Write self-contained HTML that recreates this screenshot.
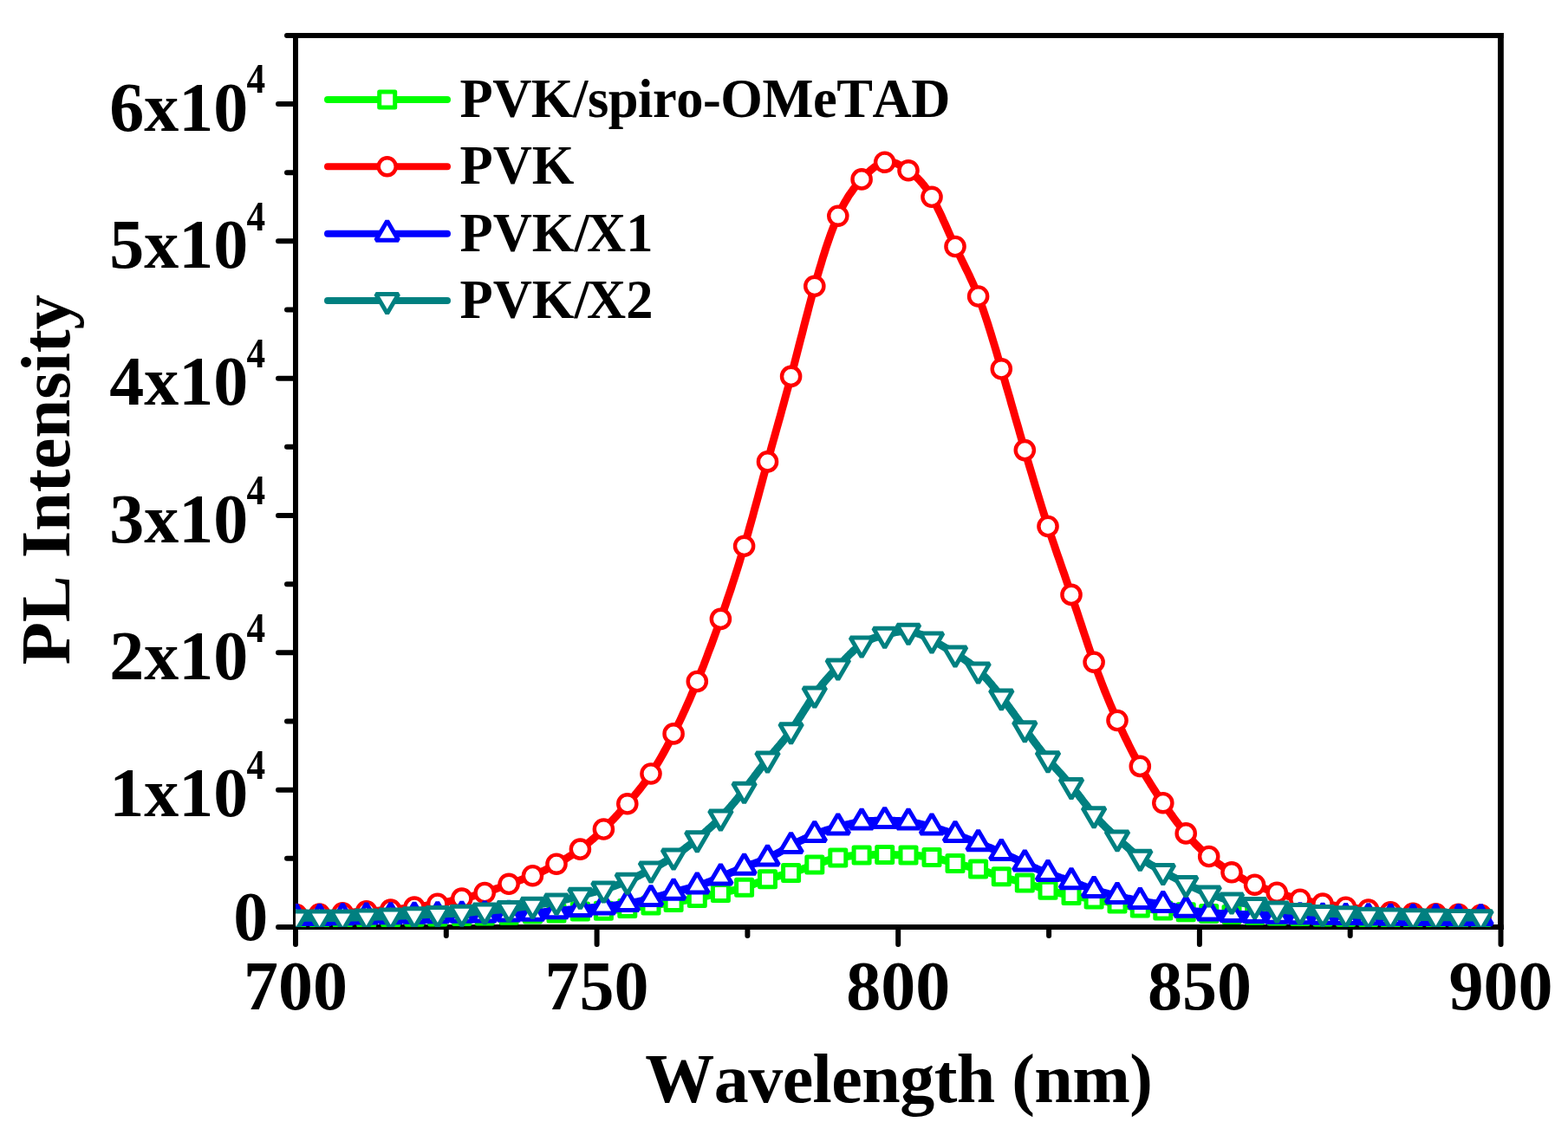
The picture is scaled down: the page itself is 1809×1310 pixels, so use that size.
<!DOCTYPE html>
<html><head><meta charset="utf-8"><title>PL Intensity</title><style>
html,body{margin:0;padding:0;background:#fff;overflow:hidden;}
svg{display:block}
text{font-family:"Liberation Serif","Times New Roman",serif;font-weight:bold;fill:#000;font-kerning:none;}
</style></head><body>
<svg width="1809" height="1310" viewBox="0 0 1809 1310">
<rect width="1809" height="1310" fill="#fff"/>
<defs><clipPath id="pc"><rect x="341" y="41" width="1390.5" height="1029"/></clipPath></defs>
<g stroke="#000" stroke-width="6" stroke-linecap="round" fill="none">
<path d="M341.0,41.0H1731.5M1731.5,1070.0H341.0V41.0" stroke-linejoin="miter" stroke-linecap="square"/>
<path d="M1731.4,38V1073" stroke-width="6.8" stroke-linecap="butt"/>
<path d="M341.0,1070.0h-20"/>
<path d="M341.0,990.8h-10"/>
<path d="M341.0,911.7h-20"/>
<path d="M341.0,832.5h-10"/>
<path d="M341.0,753.3h-20"/>
<path d="M341.0,674.2h-10"/>
<path d="M341.0,595.0h-20"/>
<path d="M341.0,515.8h-10"/>
<path d="M341.0,436.7h-20"/>
<path d="M341.0,357.5h-10"/>
<path d="M341.0,278.3h-20"/>
<path d="M341.0,199.2h-10"/>
<path d="M341.0,120.0h-20"/>
<path d="M341.0,40.9h-10"/>
<path d="M341.0,1070.0v20"/>
<path d="M514.8,1070.0v10"/>
<path d="M688.6,1070.0v20"/>
<path d="M862.4,1070.0v10"/>
<path d="M1036.2,1070.0v20"/>
<path d="M1210.1,1070.0v10"/>
<path d="M1383.9,1070.0v20"/>
<path d="M1557.7,1070.0v10"/>
<path d="M1731.5,1070.0v20"/>
</g>
<g clip-path="url(#pc)">
<polyline points="336.9,1059.5 338.9,1059.5 340.8,1059.5 342.8,1059.5 344.7,1059.5 346.7,1059.5 348.7,1059.5 350.6,1059.5 352.6,1059.5 354.6,1059.5 356.5,1059.5 358.5,1059.5 360.4,1059.5 362.4,1059.5 364.4,1059.5 366.3,1059.5 368.3,1059.5 370.3,1059.5 372.2,1059.5 374.2,1059.5 376.1,1059.5 378.1,1059.4 380.1,1059.4 382.0,1059.4 384.0,1059.4 386.0,1059.4 387.9,1059.4 389.9,1059.4 391.8,1059.3 393.8,1059.3 395.8,1059.3 397.7,1059.3 399.7,1059.3 401.7,1059.2 403.6,1059.2 405.6,1059.2 407.5,1059.2 409.5,1059.1 411.5,1059.1 413.4,1059.1 415.4,1059.1 417.4,1059.1 419.3,1059.0 421.3,1059.0 423.2,1059.0 425.2,1059.0 427.2,1059.0 429.1,1058.9 431.1,1058.9 433.0,1058.9 435.0,1058.9 437.0,1058.9 438.9,1058.8 440.9,1058.8 442.9,1058.8 444.8,1058.8 446.8,1058.7 448.7,1058.7 450.7,1058.7 452.7,1058.7 454.6,1058.6 456.6,1058.6 458.6,1058.6 460.5,1058.6 462.5,1058.5 464.4,1058.5 466.4,1058.5 468.4,1058.4 470.3,1058.4 472.3,1058.4 474.3,1058.3 476.2,1058.3 478.2,1058.3 480.1,1058.3 482.1,1058.3 484.1,1058.2 486.0,1058.2 488.0,1058.2 490.0,1058.2 491.9,1058.1 493.9,1058.1 495.8,1058.1 497.8,1058.1 499.8,1058.1 501.7,1058.0 503.7,1058.0 505.7,1058.0 507.6,1058.0 509.6,1057.9 511.5,1057.9 513.5,1057.9 515.5,1057.8 517.4,1057.8 519.4,1057.8 521.3,1057.7 523.3,1057.7 525.3,1057.6 527.2,1057.6 529.2,1057.6 531.2,1057.5 533.1,1057.5 535.1,1057.5 537.0,1057.4 539.0,1057.4 541.0,1057.3 542.9,1057.3 544.9,1057.3 546.9,1057.2 548.8,1057.2 550.8,1057.2 552.7,1057.1 554.7,1057.1 556.7,1057.1 558.6,1057.0 560.6,1057.0 562.6,1056.9 564.5,1056.9 566.5,1056.8 568.4,1056.8 570.4,1056.7 572.4,1056.7 574.3,1056.6 576.3,1056.6 578.3,1056.5 580.2,1056.5 582.2,1056.4 584.1,1056.3 586.1,1056.2 588.1,1056.2 590.0,1056.1 592.0,1056.0 594.0,1055.9 595.9,1055.8 597.9,1055.7 599.8,1055.6 601.8,1055.5 603.8,1055.4 605.7,1055.3 607.7,1055.3 609.7,1055.2 611.6,1055.1 613.6,1055.0 615.5,1055.0 617.5,1054.9 619.5,1054.9 621.4,1054.8 623.4,1054.8 625.3,1054.7 627.3,1054.7 629.3,1054.6 631.2,1054.6 633.2,1054.5 635.2,1054.4 637.1,1054.3 639.1,1054.3 641.0,1054.2 643.0,1054.0 645.0,1053.9 646.9,1053.8 648.9,1053.6 650.9,1053.5 652.8,1053.3 654.8,1053.1 656.7,1053.0 658.7,1052.8 660.7,1052.7 662.6,1052.5 664.6,1052.4 666.6,1052.3 668.5,1052.1 670.5,1052.0 672.4,1052.0 674.4,1051.9 676.4,1051.8 678.3,1051.8 680.3,1051.7 682.3,1051.7 684.2,1051.6 686.2,1051.6 688.1,1051.5 690.1,1051.5 692.1,1051.4 694.0,1051.3 696.0,1051.2 698.0,1051.1 699.9,1051.0 701.9,1050.8 703.8,1050.6 705.8,1050.5 707.8,1050.3 709.7,1050.1 711.7,1049.9 713.6,1049.6 715.6,1049.4 717.6,1049.2 719.5,1048.9 721.5,1048.7 723.5,1048.4 725.4,1048.2 727.4,1047.9 729.3,1047.7 731.3,1047.5 733.3,1047.2 735.2,1047.0 737.2,1046.7 739.2,1046.5 741.1,1046.2 743.1,1046.0 745.0,1045.7 747.0,1045.5 749.0,1045.3 750.9,1045.0 752.9,1044.8 754.9,1044.5 756.8,1044.3 758.8,1044.0 760.7,1043.8 762.7,1043.5 764.7,1043.3 766.6,1043.0 768.6,1042.7 770.6,1042.5 772.5,1042.2 774.5,1041.9 776.4,1041.6 778.4,1041.3 780.4,1041.0 782.3,1040.7 784.3,1040.3 786.3,1040.0 788.2,1039.6 790.2,1039.3 792.1,1038.9 794.1,1038.5 796.1,1038.2 798.0,1037.8 800.0,1037.4 801.9,1037.0 803.9,1036.6 805.9,1036.2 807.8,1035.7 809.8,1035.3 811.8,1034.9 813.7,1034.5 815.7,1034.0 817.6,1033.6 819.6,1033.2 821.6,1032.7 823.5,1032.3 825.5,1031.9 827.5,1031.4 829.4,1031.0 831.4,1030.6 833.3,1030.2 835.3,1029.8 837.3,1029.4 839.2,1029.0 841.2,1028.6 843.2,1028.2 845.1,1027.7 847.1,1027.3 849.0,1026.8 851.0,1026.3 853.0,1025.8 854.9,1025.3 856.9,1024.7 858.9,1024.1 860.8,1023.5 862.8,1022.8 864.7,1022.2 866.7,1021.5 868.7,1020.7 870.6,1020.0 872.6,1019.3 874.6,1018.6 876.5,1017.8 878.5,1017.1 880.4,1016.4 882.4,1015.7 884.4,1015.1 886.3,1014.4 888.3,1013.8 890.2,1013.3 892.2,1012.7 894.2,1012.2 896.1,1011.7 898.1,1011.2 900.1,1010.7 902.0,1010.2 904.0,1009.7 905.9,1009.2 907.9,1008.7 909.9,1008.2 911.8,1007.6 913.8,1007.0 915.8,1006.5 917.7,1005.8 919.7,1005.2 921.6,1004.6 923.6,1003.9 925.6,1003.2 927.5,1002.5 929.5,1001.8 931.5,1001.1 933.4,1000.4 935.4,999.7 937.3,999.0 939.3,998.3 941.3,997.6 943.2,996.9 945.2,996.2 947.2,995.5 949.1,994.9 951.1,994.2 953.0,993.6 955.0,993.0 957.0,992.4 958.9,991.9 960.9,991.4 962.9,990.9 964.8,990.4 966.8,990.0 968.7,989.6 970.7,989.3 972.7,989.0 974.6,988.7 976.6,988.4 978.5,988.2 980.5,988.0 982.5,987.8 984.4,987.7 986.4,987.5 988.4,987.4 990.3,987.3 992.3,987.2 994.2,987.1 996.2,987.0 998.2,986.9 1000.1,986.9 1002.1,986.8 1004.1,986.7 1006.0,986.7 1008.0,986.6 1009.9,986.6 1011.9,986.6 1013.9,986.5 1015.8,986.5 1017.8,986.5 1019.8,986.5 1021.7,986.5 1023.7,986.5 1025.6,986.5 1027.6,986.6 1029.6,986.6 1031.5,986.6 1033.5,986.7 1035.5,986.7 1037.4,986.8 1039.4,986.8 1041.3,986.9 1043.3,986.9 1045.3,987.0 1047.2,987.1 1049.2,987.1 1051.2,987.2 1053.1,987.3 1055.1,987.4 1057.0,987.5 1059.0,987.6 1061.0,987.7 1062.9,987.9 1064.9,988.0 1066.9,988.2 1068.8,988.5 1070.8,988.7 1072.7,989.0 1074.7,989.3 1076.7,989.7 1078.6,990.1 1080.6,990.6 1082.5,991.1 1084.5,991.6 1086.5,992.1 1088.4,992.6 1090.4,993.2 1092.4,993.7 1094.3,994.3 1096.3,994.8 1098.2,995.4 1100.2,995.9 1102.2,996.4 1104.1,997.0 1106.1,997.4 1108.1,997.9 1110.0,998.4 1112.0,998.9 1113.9,999.3 1115.9,999.8 1117.9,1000.3 1119.8,1000.8 1121.8,1001.3 1123.8,1001.8 1125.7,1002.3 1127.7,1002.8 1129.6,1003.4 1131.6,1004.0 1133.6,1004.6 1135.5,1005.3 1137.5,1005.9 1139.5,1006.6 1141.4,1007.2 1143.4,1007.9 1145.3,1008.6 1147.3,1009.2 1149.3,1009.9 1151.2,1010.5 1153.2,1011.2 1155.2,1011.8 1157.1,1012.3 1159.1,1012.9 1161.0,1013.4 1163.0,1014.0 1165.0,1014.5 1166.9,1015.0 1168.9,1015.5 1170.8,1016.0 1172.8,1016.5 1174.8,1017.0 1176.7,1017.5 1178.7,1018.0 1180.7,1018.5 1182.6,1019.1 1184.6,1019.7 1186.5,1020.2 1188.5,1020.8 1190.5,1021.4 1192.4,1022.1 1194.4,1022.7 1196.4,1023.3 1198.3,1023.9 1200.3,1024.5 1202.2,1025.2 1204.2,1025.8 1206.2,1026.4 1208.1,1026.9 1210.1,1027.5 1212.1,1028.1 1214.0,1028.6 1216.0,1029.1 1217.9,1029.6 1219.9,1030.1 1221.9,1030.6 1223.8,1031.0 1225.8,1031.4 1227.8,1031.9 1229.7,1032.3 1231.7,1032.7 1233.6,1033.1 1235.6,1033.4 1237.6,1033.8 1239.5,1034.1 1241.5,1034.5 1243.5,1034.8 1245.4,1035.1 1247.4,1035.5 1249.3,1035.8 1251.3,1036.1 1253.3,1036.4 1255.2,1036.7 1257.2,1037.1 1259.1,1037.4 1261.1,1037.7 1263.1,1038.1 1265.0,1038.4 1267.0,1038.8 1269.0,1039.1 1270.9,1039.5 1272.9,1039.9 1274.8,1040.3 1276.8,1040.7 1278.8,1041.1 1280.7,1041.4 1282.7,1041.8 1284.7,1042.2 1286.6,1042.6 1288.6,1043.0 1290.5,1043.4 1292.5,1043.8 1294.5,1044.2 1296.4,1044.6 1298.4,1044.9 1300.4,1045.3 1302.3,1045.7 1304.3,1046.0 1306.2,1046.4 1308.2,1046.7 1310.2,1047.1 1312.1,1047.4 1314.1,1047.7 1316.1,1048.0 1318.0,1048.3 1320.0,1048.6 1321.9,1048.9 1323.9,1049.1 1325.9,1049.4 1327.8,1049.6 1329.8,1049.8 1331.8,1050.0 1333.7,1050.2 1335.7,1050.4 1337.6,1050.6 1339.6,1050.8 1341.6,1051.0 1343.5,1051.1 1345.5,1051.3 1347.4,1051.4 1349.4,1051.6 1351.4,1051.7 1353.3,1051.9 1355.3,1052.0 1357.3,1052.1 1359.2,1052.2 1361.2,1052.4 1363.1,1052.5 1365.1,1052.6 1367.1,1052.7 1369.0,1052.9 1371.0,1053.0 1373.0,1053.1 1374.9,1053.2 1376.9,1053.4 1378.8,1053.5 1380.8,1053.6 1382.8,1053.8 1384.7,1053.9 1386.7,1054.0 1388.7,1054.2 1390.6,1054.3 1392.6,1054.4 1394.5,1054.5 1396.5,1054.6 1398.5,1054.7 1400.4,1054.8 1402.4,1054.9 1404.4,1054.9 1406.3,1055.0 1408.3,1055.1 1410.2,1055.2 1412.2,1055.2 1414.2,1055.3 1416.1,1055.4 1418.1,1055.4 1420.1,1055.5 1422.0,1055.5 1424.0,1055.6 1425.9,1055.6 1427.9,1055.7 1429.9,1055.8 1431.8,1055.8 1433.8,1055.9 1435.7,1055.9 1437.7,1056.0 1439.7,1056.1 1441.6,1056.1 1443.6,1056.2 1445.6,1056.2 1447.5,1056.3 1449.5,1056.4 1451.4,1056.4 1453.4,1056.5 1455.4,1056.5 1457.3,1056.6 1459.3,1056.6 1461.3,1056.7 1463.2,1056.8 1465.2,1056.8 1467.1,1056.9 1469.1,1056.9 1471.1,1057.0 1473.0,1057.0 1475.0,1057.0 1477.0,1057.1 1478.9,1057.1 1480.9,1057.2 1482.8,1057.2 1484.8,1057.2 1486.8,1057.3 1488.7,1057.3 1490.7,1057.3 1492.7,1057.4 1494.6,1057.4 1496.6,1057.4 1498.5,1057.5 1500.5,1057.5 1502.5,1057.5 1504.4,1057.6 1506.4,1057.6 1508.4,1057.7 1510.3,1057.7 1512.3,1057.7 1514.2,1057.8 1516.2,1057.8 1518.2,1057.9 1520.1,1057.9 1522.1,1057.9 1524.1,1058.0 1526.0,1058.0 1528.0,1058.0 1529.9,1058.1 1531.9,1058.1 1533.9,1058.1 1535.8,1058.1 1537.8,1058.2 1539.7,1058.2 1541.7,1058.2 1543.7,1058.2 1545.6,1058.2 1547.6,1058.3 1549.6,1058.3 1551.5,1058.3 1553.5,1058.3 1555.4,1058.3 1557.4,1058.3 1559.4,1058.4 1561.3,1058.4 1563.3,1058.4 1565.3,1058.4 1567.2,1058.5 1569.2,1058.5 1571.1,1058.5 1573.1,1058.5 1575.1,1058.6 1577.0,1058.6 1579.0,1058.6 1581.0,1058.6 1582.9,1058.7 1584.9,1058.7 1586.8,1058.7 1588.8,1058.7 1590.8,1058.8 1592.7,1058.8 1594.7,1058.8 1596.7,1058.8 1598.6,1058.8 1600.6,1058.9 1602.5,1058.9 1604.5,1058.9 1606.5,1058.9 1608.4,1058.9 1610.4,1059.0 1612.4,1059.0 1614.3,1059.0 1616.3,1059.0 1618.2,1059.0 1620.2,1059.0 1622.2,1059.0 1624.1,1059.1 1626.1,1059.1 1628.0,1059.1 1630.0,1059.1 1632.0,1059.1 1633.9,1059.1 1635.9,1059.1 1637.9,1059.2 1639.8,1059.2 1641.8,1059.2 1643.7,1059.2 1645.7,1059.2 1647.7,1059.2 1649.6,1059.3 1651.6,1059.3 1653.6,1059.3 1655.5,1059.3 1657.5,1059.3 1659.4,1059.3 1661.4,1059.3 1663.4,1059.3 1665.3,1059.3 1667.3,1059.4 1669.3,1059.4 1671.2,1059.4 1673.2,1059.4 1675.1,1059.4 1677.1,1059.4 1679.1,1059.4 1681.0,1059.4 1683.0,1059.4 1685.0,1059.4 1686.9,1059.4 1688.9,1059.4 1690.8,1059.4 1692.8,1059.4 1694.8,1059.4 1696.7,1059.4 1698.7,1059.5 1700.7,1059.5 1702.6,1059.5 1704.6,1059.5 1706.5,1059.5 1708.5,1059.5" fill="none" stroke="#00ff00" stroke-width="9" stroke-linejoin="round" stroke-linecap="round"/>
<g fill="#fff" stroke="#00ff00" stroke-width="5" stroke-linejoin="round">
<rect x="332.9" y="1050.5" width="18" height="18"/>
<rect x="359.6" y="1050.5" width="18" height="18"/>
<rect x="386.3" y="1050.3" width="18" height="18"/>
<rect x="413.7" y="1050.0" width="18" height="18"/>
<rect x="441.7" y="1049.7" width="18" height="18"/>
<rect x="469.0" y="1049.3" width="18" height="18"/>
<rect x="495.8" y="1049.0" width="18" height="18"/>
<rect x="523.8" y="1048.5" width="18" height="18"/>
<rect x="550.2" y="1048.0" width="18" height="18"/>
<rect x="578.1" y="1047.2" width="18" height="18"/>
<rect x="605.5" y="1046.0" width="18" height="18"/>
<rect x="633.0" y="1045.1" width="18" height="18"/>
<rect x="660.4" y="1043.1" width="18" height="18"/>
<rect x="687.4" y="1042.2" width="18" height="18"/>
<rect x="714.8" y="1039.4" width="18" height="18"/>
<rect x="742.0" y="1036.0" width="18" height="18"/>
<rect x="768.1" y="1032.5" width="18" height="18"/>
<rect x="795.3" y="1027.5" width="18" height="18"/>
<rect x="822.4" y="1021.6" width="18" height="18"/>
<rect x="849.6" y="1015.2" width="18" height="18"/>
<rect x="876.5" y="1005.7" width="18" height="18"/>
<rect x="903.6" y="998.4" width="18" height="18"/>
<rect x="930.8" y="989.1" width="18" height="18"/>
<rect x="957.8" y="981.0" width="18" height="18"/>
<rect x="985.1" y="978.1" width="18" height="18"/>
<rect x="1011.7" y="977.5" width="18" height="18"/>
<rect x="1039.0" y="978.1" width="18" height="18"/>
<rect x="1066.0" y="980.4" width="18" height="18"/>
<rect x="1093.0" y="987.4" width="18" height="18"/>
<rect x="1119.6" y="994.1" width="18" height="18"/>
<rect x="1146.3" y="1002.8" width="18" height="18"/>
<rect x="1173.3" y="1010.0" width="18" height="18"/>
<rect x="1200.0" y="1018.2" width="18" height="18"/>
<rect x="1227.0" y="1024.5" width="18" height="18"/>
<rect x="1253.1" y="1028.9" width="18" height="18"/>
<rect x="1280.0" y="1034.1" width="18" height="18"/>
<rect x="1306.3" y="1038.9" width="18" height="18"/>
<rect x="1332.8" y="1042.0" width="18" height="18"/>
<rect x="1359.2" y="1043.8" width="18" height="18"/>
<rect x="1385.7" y="1045.5" width="18" height="18"/>
<rect x="1412.0" y="1046.5" width="18" height="18"/>
<rect x="1438.6" y="1047.3" width="18" height="18"/>
<rect x="1464.2" y="1048.0" width="18" height="18"/>
<rect x="1490.9" y="1048.5" width="18" height="18"/>
<rect x="1517.0" y="1049.0" width="18" height="18"/>
<rect x="1543.6" y="1049.3" width="18" height="18"/>
<rect x="1569.7" y="1049.6" width="18" height="18"/>
<rect x="1595.3" y="1049.9" width="18" height="18"/>
<rect x="1621.2" y="1050.1" width="18" height="18"/>
<rect x="1647.5" y="1050.3" width="18" height="18"/>
<rect x="1673.6" y="1050.4" width="18" height="18"/>
<rect x="1699.5" y="1050.5" width="18" height="18"/>
</g>
<polyline points="336.9,1055.5 338.9,1055.5 340.8,1055.5 342.8,1055.5 344.7,1055.5 346.7,1055.4 348.7,1055.4 350.6,1055.4 352.6,1055.4 354.6,1055.3 356.5,1055.3 358.5,1055.3 360.4,1055.2 362.4,1055.2 364.4,1055.1 366.3,1055.1 368.3,1055.0 370.3,1054.9 372.2,1054.9 374.2,1054.8 376.1,1054.7 378.1,1054.7 380.1,1054.6 382.0,1054.5 384.0,1054.4 386.0,1054.3 387.9,1054.2 389.9,1054.1 391.8,1054.0 393.8,1053.9 395.8,1053.8 397.7,1053.6 399.7,1053.5 401.7,1053.4 403.6,1053.2 405.6,1053.1 407.5,1053.0 409.5,1052.8 411.5,1052.7 413.4,1052.5 415.4,1052.4 417.4,1052.3 419.3,1052.1 421.3,1052.0 423.2,1051.9 425.2,1051.7 427.2,1051.6 429.1,1051.5 431.1,1051.4 433.0,1051.3 435.0,1051.2 437.0,1051.1 438.9,1050.9 440.9,1050.8 442.9,1050.7 444.8,1050.5 446.8,1050.4 448.7,1050.3 450.7,1050.1 452.7,1049.9 454.6,1049.8 456.6,1049.6 458.6,1049.4 460.5,1049.2 462.5,1048.9 464.4,1048.7 466.4,1048.5 468.4,1048.3 470.3,1048.0 472.3,1047.8 474.3,1047.6 476.2,1047.3 478.2,1047.1 480.1,1046.8 482.1,1046.6 484.1,1046.3 486.0,1046.1 488.0,1045.8 490.0,1045.6 491.9,1045.3 493.9,1045.0 495.8,1044.7 497.8,1044.4 499.8,1044.1 501.7,1043.7 503.7,1043.4 505.7,1043.0 507.6,1042.7 509.6,1042.3 511.5,1041.9 513.5,1041.5 515.5,1041.0 517.4,1040.6 519.4,1040.2 521.3,1039.7 523.3,1039.3 525.3,1038.8 527.2,1038.4 529.2,1037.9 531.2,1037.5 533.1,1037.0 535.1,1036.6 537.0,1036.1 539.0,1035.7 541.0,1035.3 542.9,1034.8 544.9,1034.4 546.9,1033.9 548.8,1033.4 550.8,1032.9 552.7,1032.4 554.7,1031.8 556.7,1031.3 558.6,1030.7 560.6,1030.1 562.6,1029.4 564.5,1028.7 566.5,1028.0 568.4,1027.3 570.4,1026.6 572.4,1025.8 574.3,1025.1 576.3,1024.4 578.3,1023.6 580.2,1022.9 582.2,1022.1 584.1,1021.4 586.1,1020.7 588.1,1020.0 590.0,1019.3 592.0,1018.6 594.0,1017.9 595.9,1017.3 597.9,1016.6 599.8,1016.0 601.8,1015.3 603.8,1014.6 605.7,1014.0 607.7,1013.3 609.7,1012.6 611.6,1011.8 613.6,1011.1 615.5,1010.3 617.5,1009.4 619.5,1008.6 621.4,1007.7 623.4,1006.8 625.3,1005.9 627.3,1004.9 629.3,1003.9 631.2,1002.9 633.2,1001.9 635.2,1000.9 637.1,999.8 639.1,998.8 641.0,997.7 643.0,996.6 645.0,995.5 646.9,994.4 648.9,993.3 650.9,992.1 652.8,991.0 654.8,989.8 656.7,988.6 658.7,987.4 660.7,986.1 662.6,984.8 664.6,983.5 666.6,982.1 668.5,980.7 670.5,979.3 672.4,977.8 674.4,976.3 676.4,974.8 678.3,973.2 680.3,971.6 682.3,969.9 684.2,968.3 686.2,966.5 688.1,964.8 690.1,963.0 692.1,961.2 694.0,959.3 696.0,957.4 698.0,955.5 699.9,953.5 701.9,951.5 703.8,949.5 705.8,947.5 707.8,945.4 709.7,943.3 711.7,941.2 713.6,939.1 715.6,936.9 717.6,934.8 719.5,932.6 721.5,930.4 723.5,928.1 725.4,925.9 727.4,923.6 729.3,921.4 731.3,919.1 733.3,916.7 735.2,914.3 737.2,911.9 739.2,909.4 741.1,906.9 743.1,904.3 745.0,901.6 747.0,898.9 749.0,896.1 750.9,893.2 752.9,890.2 754.9,887.1 756.8,884.0 758.8,880.7 760.7,877.4 762.7,874.0 764.7,870.5 766.6,867.0 768.6,863.4 770.6,859.7 772.5,855.9 774.5,852.1 776.4,848.2 778.4,844.3 780.4,840.3 782.3,836.2 784.3,832.1 786.3,827.9 788.2,823.7 790.2,819.4 792.1,815.0 794.1,810.6 796.1,806.1 798.0,801.5 800.0,796.9 801.9,792.2 803.9,787.5 805.9,782.6 807.8,777.7 809.8,772.8 811.8,767.8 813.7,762.7 815.7,757.5 817.6,752.3 819.6,747.1 821.6,741.8 823.5,736.4 825.5,731.0 827.5,725.5 829.4,720.0 831.4,714.5 833.3,708.8 835.3,703.2 837.3,697.5 839.2,691.7 841.2,685.9 843.2,680.0 845.1,674.0 847.1,667.9 849.0,661.8 851.0,655.6 853.0,649.2 854.9,642.8 856.9,636.3 858.9,629.6 860.8,622.8 862.8,616.0 864.7,609.0 866.7,602.0 868.7,594.9 870.6,587.7 872.6,580.5 874.6,573.3 876.5,566.0 878.5,558.8 880.4,551.5 882.4,544.3 884.4,537.1 886.3,529.9 888.3,522.8 890.2,515.7 892.2,508.6 894.2,501.6 896.1,494.6 898.1,487.5 900.1,480.5 902.0,473.4 904.0,466.3 905.9,459.1 907.9,451.9 909.9,444.6 911.8,437.3 913.8,429.9 915.8,422.4 917.7,414.8 919.7,407.2 921.6,399.6 923.6,391.9 925.6,384.3 927.5,376.6 929.5,369.0 931.5,361.5 933.4,354.0 935.4,346.6 937.3,339.3 939.3,332.1 941.3,325.0 943.2,318.1 945.2,311.3 947.2,304.7 949.1,298.2 951.1,292.0 953.0,285.9 955.0,280.0 957.0,274.3 958.9,268.8 960.9,263.6 962.9,258.5 964.8,253.8 966.8,249.3 968.7,245.0 970.7,241.0 972.7,237.2 974.6,233.6 976.6,230.3 978.5,227.1 980.5,224.1 982.5,221.3 984.4,218.6 986.4,216.0 988.4,213.6 990.3,211.2 992.3,208.9 994.2,206.7 996.2,204.6 998.2,202.5 1000.1,200.5 1002.1,198.6 1004.1,196.8 1006.0,195.2 1008.0,193.6 1009.9,192.2 1011.9,190.9 1013.9,189.8 1015.8,188.8 1017.8,188.0 1019.8,187.4 1021.7,187.0 1023.7,186.8 1025.6,186.8 1027.6,187.0 1029.6,187.3 1031.5,187.8 1033.5,188.5 1035.5,189.3 1037.4,190.2 1039.4,191.2 1041.3,192.3 1043.3,193.6 1045.3,194.9 1047.2,196.2 1049.2,197.7 1051.2,199.2 1053.1,200.8 1055.1,202.5 1057.0,204.2 1059.0,206.1 1061.0,208.1 1062.9,210.3 1064.9,212.6 1066.9,215.1 1068.8,217.7 1070.8,220.5 1072.7,223.6 1074.7,226.8 1076.7,230.2 1078.6,233.9 1080.6,237.7 1082.5,241.7 1084.5,245.8 1086.5,250.0 1088.4,254.4 1090.4,258.7 1092.4,263.1 1094.3,267.5 1096.3,272.0 1098.2,276.3 1100.2,280.6 1102.2,284.9 1104.1,289.0 1106.1,293.1 1108.1,297.1 1110.0,301.0 1112.0,305.0 1113.9,309.0 1115.9,313.0 1117.9,317.1 1119.8,321.4 1121.8,325.7 1123.8,330.2 1125.7,334.8 1127.7,339.7 1129.6,344.7 1131.6,350.0 1133.6,355.5 1135.5,361.2 1137.5,367.1 1139.5,373.1 1141.4,379.3 1143.4,385.6 1145.3,392.0 1147.3,398.5 1149.3,405.1 1151.2,411.8 1153.2,418.5 1155.2,425.3 1157.1,432.1 1159.1,438.9 1161.0,445.7 1163.0,452.5 1165.0,459.3 1166.9,466.2 1168.9,473.0 1170.8,479.9 1172.8,486.7 1174.8,493.5 1176.7,500.4 1178.7,507.2 1180.7,513.9 1182.6,520.7 1184.6,527.5 1186.5,534.2 1188.5,540.9 1190.5,547.5 1192.4,554.1 1194.4,560.7 1196.4,567.2 1198.3,573.6 1200.3,580.0 1202.2,586.3 1204.2,592.6 1206.2,598.7 1208.1,604.8 1210.1,610.8 1212.1,616.8 1214.0,622.6 1216.0,628.4 1217.9,634.2 1219.9,639.9 1221.9,645.5 1223.8,651.2 1225.8,656.9 1227.8,662.5 1229.7,668.2 1231.7,673.9 1233.6,679.6 1235.6,685.4 1237.6,691.2 1239.5,697.1 1241.5,703.0 1243.5,708.9 1245.4,714.9 1247.4,720.8 1249.3,726.7 1251.3,732.6 1253.3,738.5 1255.2,744.3 1257.2,750.1 1259.1,755.8 1261.1,761.4 1263.1,766.9 1265.0,772.3 1267.0,777.7 1269.0,782.9 1270.9,788.0 1272.9,793.1 1274.8,798.0 1276.8,802.9 1278.8,807.7 1280.7,812.4 1282.7,817.1 1284.7,821.6 1286.6,826.1 1288.6,830.6 1290.5,834.9 1292.5,839.2 1294.5,843.5 1296.4,847.6 1298.4,851.8 1300.4,855.8 1302.3,859.8 1304.3,863.7 1306.2,867.5 1308.2,871.3 1310.2,875.0 1312.1,878.7 1314.1,882.2 1316.1,885.7 1318.0,889.2 1320.0,892.6 1321.9,895.9 1323.9,899.1 1325.9,902.3 1327.8,905.5 1329.8,908.6 1331.8,911.7 1333.7,914.7 1335.7,917.6 1337.6,920.6 1339.6,923.5 1341.6,926.4 1343.5,929.2 1345.5,932.0 1347.4,934.8 1349.4,937.5 1351.4,940.2 1353.3,942.9 1355.3,945.6 1357.3,948.2 1359.2,950.7 1361.2,953.2 1363.1,955.7 1365.1,958.1 1367.1,960.5 1369.0,962.8 1371.0,965.1 1373.0,967.3 1374.9,969.5 1376.9,971.6 1378.8,973.7 1380.8,975.7 1382.8,977.7 1384.7,979.6 1386.7,981.4 1388.7,983.3 1390.6,985.0 1392.6,986.7 1394.5,988.4 1396.5,990.0 1398.5,991.5 1400.4,993.0 1402.4,994.5 1404.4,995.9 1406.3,997.3 1408.3,998.6 1410.2,1000.0 1412.2,1001.3 1414.2,1002.5 1416.1,1003.8 1418.1,1005.0 1420.1,1006.2 1422.0,1007.4 1424.0,1008.6 1425.9,1009.8 1427.9,1010.9 1429.9,1012.1 1431.8,1013.2 1433.8,1014.3 1435.7,1015.4 1437.7,1016.4 1439.7,1017.4 1441.6,1018.4 1443.6,1019.4 1445.6,1020.3 1447.5,1021.2 1449.5,1022.0 1451.4,1022.8 1453.4,1023.6 1455.4,1024.3 1457.3,1025.0 1459.3,1025.7 1461.3,1026.4 1463.2,1027.0 1465.2,1027.7 1467.1,1028.3 1469.1,1028.9 1471.1,1029.5 1473.0,1030.1 1475.0,1030.8 1477.0,1031.4 1478.9,1032.0 1480.9,1032.7 1482.8,1033.3 1484.8,1033.9 1486.8,1034.5 1488.7,1035.1 1490.7,1035.7 1492.7,1036.3 1494.6,1036.8 1496.6,1037.3 1498.5,1037.8 1500.5,1038.3 1502.5,1038.8 1504.4,1039.2 1506.4,1039.6 1508.4,1040.0 1510.3,1040.4 1512.3,1040.8 1514.2,1041.1 1516.2,1041.5 1518.2,1041.8 1520.1,1042.1 1522.1,1042.5 1524.1,1042.8 1526.0,1043.1 1528.0,1043.4 1529.9,1043.7 1531.9,1044.1 1533.9,1044.4 1535.8,1044.7 1537.8,1045.0 1539.7,1045.3 1541.7,1045.6 1543.7,1045.9 1545.6,1046.2 1547.6,1046.5 1549.6,1046.8 1551.5,1047.1 1553.5,1047.3 1555.4,1047.5 1557.4,1047.8 1559.4,1048.0 1561.3,1048.2 1563.3,1048.4 1565.3,1048.6 1567.2,1048.8 1569.2,1049.0 1571.1,1049.2 1573.1,1049.4 1575.1,1049.6 1577.0,1049.8 1579.0,1050.0 1581.0,1050.3 1582.9,1050.5 1584.9,1050.7 1586.8,1050.9 1588.8,1051.2 1590.8,1051.4 1592.7,1051.7 1594.7,1051.9 1596.7,1052.1 1598.6,1052.3 1600.6,1052.5 1602.5,1052.7 1604.5,1052.9 1606.5,1053.1 1608.4,1053.3 1610.4,1053.4 1612.4,1053.5 1614.3,1053.7 1616.3,1053.8 1618.2,1053.9 1620.2,1054.0 1622.2,1054.1 1624.1,1054.2 1626.1,1054.3 1628.0,1054.3 1630.0,1054.4 1632.0,1054.5 1633.9,1054.5 1635.9,1054.6 1637.9,1054.6 1639.8,1054.7 1641.8,1054.7 1643.7,1054.7 1645.7,1054.8 1647.7,1054.8 1649.6,1054.8 1651.6,1054.8 1653.6,1054.9 1655.5,1054.9 1657.5,1054.9 1659.4,1054.9 1661.4,1054.9 1663.4,1055.0 1665.3,1055.0 1667.3,1055.0 1669.3,1055.0 1671.2,1055.0 1673.2,1055.1 1675.1,1055.1 1677.1,1055.1 1679.1,1055.1 1681.0,1055.2 1683.0,1055.2 1685.0,1055.2 1686.9,1055.3 1688.9,1055.3 1690.8,1055.4 1692.8,1055.4 1694.8,1055.5 1696.7,1055.6 1698.7,1055.6 1700.7,1055.7 1702.6,1055.8 1704.6,1055.9 1706.5,1056.0 1708.5,1056.1" fill="none" stroke="#ff0000" stroke-width="9" stroke-linejoin="round" stroke-linecap="round"/>
<g fill="#fff" stroke="#ff0000" stroke-width="4.4" stroke-linejoin="round">
<circle cx="341.9" cy="1055.5" r="10.6"/>
<circle cx="368.6" cy="1055.0" r="10.6"/>
<circle cx="395.3" cy="1053.8" r="10.6"/>
<circle cx="422.7" cy="1051.9" r="10.6"/>
<circle cx="450.7" cy="1050.1" r="10.6"/>
<circle cx="478.0" cy="1047.1" r="10.6"/>
<circle cx="504.8" cy="1043.2" r="10.6"/>
<circle cx="532.8" cy="1037.1" r="10.6"/>
<circle cx="559.2" cy="1030.5" r="10.6"/>
<circle cx="587.1" cy="1020.3" r="10.6"/>
<circle cx="614.5" cy="1010.7" r="10.6"/>
<circle cx="642.0" cy="997.2" r="10.6"/>
<circle cx="669.4" cy="980.1" r="10.6"/>
<circle cx="696.4" cy="957.0" r="10.6"/>
<circle cx="723.8" cy="927.8" r="10.6"/>
<circle cx="751.0" cy="893.0" r="10.6"/>
<circle cx="777.1" cy="846.9" r="10.6"/>
<circle cx="804.3" cy="786.5" r="10.6"/>
<circle cx="831.4" cy="714.4" r="10.6"/>
<circle cx="858.6" cy="630.3" r="10.6"/>
<circle cx="885.5" cy="532.9" r="10.6"/>
<circle cx="912.6" cy="434.4" r="10.6"/>
<circle cx="939.8" cy="330.3" r="10.6"/>
<circle cx="966.8" cy="249.2" r="10.6"/>
<circle cx="994.1" cy="206.9" r="10.6"/>
<circle cx="1020.7" cy="187.2" r="10.6"/>
<circle cx="1048.0" cy="196.8" r="10.6"/>
<circle cx="1075.0" cy="227.3" r="10.6"/>
<circle cx="1102.0" cy="284.5" r="10.6"/>
<circle cx="1128.6" cy="342.0" r="10.6"/>
<circle cx="1155.3" cy="425.8" r="10.6"/>
<circle cx="1182.3" cy="519.6" r="10.6"/>
<circle cx="1209.0" cy="607.5" r="10.6"/>
<circle cx="1236.0" cy="686.4" r="10.6"/>
<circle cx="1262.1" cy="764.2" r="10.6"/>
<circle cx="1289.0" cy="831.5" r="10.6"/>
<circle cx="1315.3" cy="884.4" r="10.6"/>
<circle cx="1341.8" cy="926.7" r="10.6"/>
<circle cx="1368.2" cy="961.9" r="10.6"/>
<circle cx="1394.7" cy="988.5" r="10.6"/>
<circle cx="1421.0" cy="1006.8" r="10.6"/>
<circle cx="1447.6" cy="1021.2" r="10.6"/>
<circle cx="1473.2" cy="1030.2" r="10.6"/>
<circle cx="1499.9" cy="1038.2" r="10.6"/>
<circle cx="1526.0" cy="1043.1" r="10.6"/>
<circle cx="1552.6" cy="1047.2" r="10.6"/>
<circle cx="1578.7" cy="1050.0" r="10.6"/>
<circle cx="1604.3" cy="1052.9" r="10.6"/>
<circle cx="1630.2" cy="1054.4" r="10.6"/>
<circle cx="1656.5" cy="1054.9" r="10.6"/>
<circle cx="1682.6" cy="1055.2" r="10.6"/>
<circle cx="1708.5" cy="1056.1" r="10.6"/>
</g>
<polyline points="336.9,1059.0 338.9,1059.0 340.8,1059.0 342.8,1059.0 344.7,1059.0 346.7,1059.1 348.7,1059.1 350.6,1059.1 352.6,1059.1 354.6,1059.1 356.5,1059.1 358.5,1059.1 360.4,1059.1 362.4,1059.1 364.4,1059.1 366.3,1059.0 368.3,1059.0 370.3,1059.0 372.2,1058.9 374.2,1058.9 376.1,1058.8 378.1,1058.8 380.1,1058.8 382.0,1058.7 384.0,1058.6 386.0,1058.6 387.9,1058.5 389.9,1058.5 391.8,1058.4 393.8,1058.3 395.8,1058.3 397.7,1058.2 399.7,1058.2 401.7,1058.1 403.6,1058.0 405.6,1058.0 407.5,1057.9 409.5,1057.8 411.5,1057.8 413.4,1057.7 415.4,1057.7 417.4,1057.6 419.3,1057.6 421.3,1057.5 423.2,1057.5 425.2,1057.5 427.2,1057.4 429.1,1057.4 431.1,1057.4 433.0,1057.4 435.0,1057.3 437.0,1057.3 438.9,1057.3 440.9,1057.3 442.9,1057.3 444.8,1057.3 446.8,1057.2 448.7,1057.2 450.7,1057.2 452.7,1057.2 454.6,1057.2 456.6,1057.1 458.6,1057.1 460.5,1057.1 462.5,1057.1 464.4,1057.0 466.4,1057.0 468.4,1057.0 470.3,1056.9 472.3,1056.9 474.3,1056.9 476.2,1056.8 478.2,1056.8 480.1,1056.8 482.1,1056.7 484.1,1056.7 486.0,1056.7 488.0,1056.6 490.0,1056.6 491.9,1056.5 493.9,1056.5 495.8,1056.5 497.8,1056.4 499.8,1056.4 501.7,1056.4 503.7,1056.3 505.7,1056.3 507.6,1056.2 509.6,1056.2 511.5,1056.2 513.5,1056.1 515.5,1056.1 517.4,1056.0 519.4,1056.0 521.3,1056.0 523.3,1055.9 525.3,1055.9 527.2,1055.9 529.2,1055.8 531.2,1055.8 533.1,1055.8 535.1,1055.8 537.0,1055.8 539.0,1055.7 541.0,1055.7 542.9,1055.7 544.9,1055.7 546.9,1055.7 548.8,1055.7 550.8,1055.6 552.7,1055.6 554.7,1055.6 556.7,1055.6 558.6,1055.5 560.6,1055.5 562.6,1055.4 564.5,1055.4 566.5,1055.3 568.4,1055.2 570.4,1055.2 572.4,1055.1 574.3,1055.0 576.3,1055.0 578.3,1054.9 580.2,1054.8 582.2,1054.8 584.1,1054.7 586.1,1054.6 588.1,1054.6 590.0,1054.5 592.0,1054.5 594.0,1054.4 595.9,1054.4 597.9,1054.3 599.8,1054.3 601.8,1054.2 603.8,1054.2 605.7,1054.1 607.7,1054.0 609.7,1053.9 611.6,1053.9 613.6,1053.8 615.5,1053.6 617.5,1053.5 619.5,1053.4 621.4,1053.2 623.4,1053.0 625.3,1052.9 627.3,1052.7 629.3,1052.5 631.2,1052.3 633.2,1052.1 635.2,1051.9 637.1,1051.8 639.1,1051.6 641.0,1051.4 643.0,1051.2 645.0,1051.0 646.9,1050.9 648.9,1050.7 650.9,1050.5 652.8,1050.4 654.8,1050.2 656.7,1050.0 658.7,1049.9 660.7,1049.7 662.6,1049.6 664.6,1049.4 666.6,1049.2 668.5,1049.1 670.5,1048.9 672.4,1048.7 674.4,1048.6 676.4,1048.4 678.3,1048.2 680.3,1048.0 682.3,1047.8 684.2,1047.6 686.2,1047.4 688.1,1047.3 690.1,1047.1 692.1,1046.9 694.0,1046.6 696.0,1046.4 698.0,1046.2 699.9,1046.0 701.9,1045.8 703.8,1045.6 705.8,1045.4 707.8,1045.1 709.7,1044.9 711.7,1044.6 713.6,1044.4 715.6,1044.1 717.6,1043.8 719.5,1043.6 721.5,1043.3 723.5,1042.9 725.4,1042.6 727.4,1042.3 729.3,1041.9 731.3,1041.6 733.3,1041.2 735.2,1040.8 737.2,1040.4 739.2,1040.0 741.1,1039.5 743.1,1039.1 745.0,1038.6 747.0,1038.1 749.0,1037.6 750.9,1037.1 752.9,1036.6 754.9,1036.1 756.8,1035.5 758.8,1035.0 760.7,1034.4 762.7,1033.9 764.7,1033.3 766.6,1032.7 768.6,1032.2 770.6,1031.6 772.5,1031.1 774.5,1030.5 776.4,1030.0 778.4,1029.5 780.4,1028.9 782.3,1028.4 784.3,1027.9 786.3,1027.4 788.2,1026.9 790.2,1026.4 792.1,1025.9 794.1,1025.4 796.1,1024.9 798.0,1024.3 800.0,1023.8 801.9,1023.2 803.9,1022.6 805.9,1022.0 807.8,1021.4 809.8,1020.7 811.8,1020.1 813.7,1019.4 815.7,1018.7 817.6,1017.9 819.6,1017.2 821.6,1016.4 823.5,1015.6 825.5,1014.9 827.5,1014.1 829.4,1013.2 831.4,1012.4 833.3,1011.6 835.3,1010.7 837.3,1009.9 839.2,1009.0 841.2,1008.1 843.2,1007.3 845.1,1006.4 847.1,1005.6 849.0,1004.7 851.0,1003.9 853.0,1003.1 854.9,1002.3 856.9,1001.5 858.9,1000.7 860.8,1000.0 862.8,999.3 864.7,998.5 866.7,997.8 868.7,997.1 870.6,996.5 872.6,995.7 874.6,995.0 876.5,994.3 878.5,993.5 880.4,992.8 882.4,992.0 884.4,991.1 886.3,990.2 888.3,989.3 890.2,988.3 892.2,987.3 894.2,986.3 896.1,985.3 898.1,984.2 900.1,983.1 902.0,982.0 904.0,980.9 905.9,979.8 907.9,978.7 909.9,977.6 911.8,976.5 913.8,975.4 915.8,974.4 917.7,973.4 919.7,972.3 921.6,971.3 923.6,970.3 925.6,969.4 927.5,968.4 929.5,967.5 931.5,966.6 933.4,965.8 935.4,964.9 937.3,964.1 939.3,963.3 941.3,962.5 943.2,961.8 945.2,961.1 947.2,960.4 949.1,959.7 951.1,959.0 953.0,958.4 955.0,957.8 957.0,957.2 958.9,956.6 960.9,956.0 962.9,955.5 964.8,954.9 966.8,954.4 968.7,953.9 970.7,953.4 972.7,952.9 974.6,952.4 976.6,951.9 978.5,951.5 980.5,951.0 982.5,950.6 984.4,950.2 986.4,949.8 988.4,949.5 990.3,949.2 992.3,948.9 994.2,948.6 996.2,948.3 998.2,948.1 1000.1,947.9 1002.1,947.8 1004.1,947.6 1006.0,947.5 1008.0,947.4 1009.9,947.3 1011.9,947.2 1013.9,947.2 1015.8,947.1 1017.8,947.1 1019.8,947.1 1021.7,947.1 1023.7,947.1 1025.6,947.1 1027.6,947.2 1029.6,947.2 1031.5,947.3 1033.5,947.4 1035.5,947.5 1037.4,947.6 1039.4,947.7 1041.3,947.9 1043.3,948.1 1045.3,948.3 1047.2,948.5 1049.2,948.8 1051.2,949.1 1053.1,949.4 1055.1,949.7 1057.0,950.1 1059.0,950.5 1061.0,950.9 1062.9,951.3 1064.9,951.8 1066.9,952.3 1068.8,952.7 1070.8,953.3 1072.7,953.8 1074.7,954.3 1076.7,954.9 1078.6,955.4 1080.6,956.0 1082.5,956.6 1084.5,957.2 1086.5,957.8 1088.4,958.5 1090.4,959.1 1092.4,959.8 1094.3,960.4 1096.3,961.1 1098.2,961.8 1100.2,962.5 1102.2,963.2 1104.1,963.9 1106.1,964.6 1108.1,965.3 1110.0,966.0 1112.0,966.8 1113.9,967.5 1115.9,968.3 1117.9,969.0 1119.8,969.8 1121.8,970.5 1123.8,971.3 1125.7,972.1 1127.7,972.8 1129.6,973.6 1131.6,974.4 1133.6,975.1 1135.5,975.9 1137.5,976.7 1139.5,977.5 1141.4,978.2 1143.4,979.0 1145.3,979.8 1147.3,980.6 1149.3,981.4 1151.2,982.3 1153.2,983.1 1155.2,983.9 1157.1,984.8 1159.1,985.7 1161.0,986.5 1163.0,987.4 1165.0,988.3 1166.9,989.2 1168.9,990.1 1170.8,991.0 1172.8,992.0 1174.8,992.9 1176.7,993.8 1178.7,994.7 1180.7,995.6 1182.6,996.6 1184.6,997.5 1186.5,998.4 1188.5,999.3 1190.5,1000.2 1192.4,1001.1 1194.4,1001.9 1196.4,1002.8 1198.3,1003.7 1200.3,1004.5 1202.2,1005.3 1204.2,1006.1 1206.2,1006.9 1208.1,1007.7 1210.1,1008.4 1212.1,1009.1 1214.0,1009.8 1216.0,1010.5 1217.9,1011.2 1219.9,1011.8 1221.9,1012.5 1223.8,1013.2 1225.8,1013.8 1227.8,1014.5 1229.7,1015.1 1231.7,1015.8 1233.6,1016.5 1235.6,1017.2 1237.6,1017.9 1239.5,1018.6 1241.5,1019.4 1243.5,1020.1 1245.4,1020.9 1247.4,1021.6 1249.3,1022.4 1251.3,1023.1 1253.3,1023.9 1255.2,1024.6 1257.2,1025.3 1259.1,1026.0 1261.1,1026.7 1263.1,1027.3 1265.0,1027.9 1267.0,1028.5 1269.0,1029.1 1270.9,1029.6 1272.9,1030.1 1274.8,1030.6 1276.8,1031.1 1278.8,1031.6 1280.7,1032.0 1282.7,1032.5 1284.7,1033.0 1286.6,1033.4 1288.6,1033.9 1290.5,1034.4 1292.5,1034.9 1294.5,1035.3 1296.4,1035.8 1298.4,1036.3 1300.4,1036.8 1302.3,1037.2 1304.3,1037.7 1306.2,1038.2 1308.2,1038.6 1310.2,1039.0 1312.1,1039.4 1314.1,1039.8 1316.1,1040.1 1318.0,1040.5 1320.0,1040.8 1321.9,1041.1 1323.9,1041.3 1325.9,1041.6 1327.8,1041.9 1329.8,1042.2 1331.8,1042.4 1333.7,1042.7 1335.7,1043.0 1337.6,1043.3 1339.6,1043.6 1341.6,1044.0 1343.5,1044.3 1345.5,1044.7 1347.4,1045.1 1349.4,1045.6 1351.4,1046.0 1353.3,1046.4 1355.3,1046.9 1357.3,1047.4 1359.2,1047.8 1361.2,1048.3 1363.1,1048.7 1365.1,1049.1 1367.1,1049.6 1369.0,1050.0 1371.0,1050.3 1373.0,1050.7 1374.9,1051.0 1376.9,1051.4 1378.8,1051.7 1380.8,1051.9 1382.8,1052.2 1384.7,1052.5 1386.7,1052.7 1388.7,1052.9 1390.6,1053.1 1392.6,1053.3 1394.5,1053.5 1396.5,1053.7 1398.5,1053.8 1400.4,1053.9 1402.4,1054.1 1404.4,1054.2 1406.3,1054.3 1408.3,1054.4 1410.2,1054.5 1412.2,1054.6 1414.2,1054.7 1416.1,1054.8 1418.1,1054.9 1420.1,1055.0 1422.0,1055.0 1424.0,1055.1 1425.9,1055.2 1427.9,1055.3 1429.9,1055.4 1431.8,1055.4 1433.8,1055.5 1435.7,1055.6 1437.7,1055.7 1439.7,1055.7 1441.6,1055.8 1443.6,1055.9 1445.6,1055.9 1447.5,1056.0 1449.5,1056.1 1451.4,1056.1 1453.4,1056.2 1455.4,1056.2 1457.3,1056.3 1459.3,1056.3 1461.3,1056.4 1463.2,1056.5 1465.2,1056.5 1467.1,1056.6 1469.1,1056.6 1471.1,1056.6 1473.0,1056.7 1475.0,1056.7 1477.0,1056.8 1478.9,1056.8 1480.9,1056.9 1482.8,1056.9 1484.8,1057.0 1486.8,1057.0 1488.7,1057.1 1490.7,1057.1 1492.7,1057.1 1494.6,1057.2 1496.6,1057.2 1498.5,1057.3 1500.5,1057.3 1502.5,1057.4 1504.4,1057.4 1506.4,1057.4 1508.4,1057.5 1510.3,1057.5 1512.3,1057.6 1514.2,1057.6 1516.2,1057.6 1518.2,1057.7 1520.1,1057.7 1522.1,1057.7 1524.1,1057.8 1526.0,1057.8 1528.0,1057.8 1529.9,1057.8 1531.9,1057.9 1533.9,1057.9 1535.8,1057.9 1537.8,1057.9 1539.7,1057.9 1541.7,1057.9 1543.7,1058.0 1545.6,1058.0 1547.6,1058.0 1549.6,1058.0 1551.5,1058.0 1553.5,1058.0 1555.4,1058.0 1557.4,1058.0 1559.4,1058.0 1561.3,1058.0 1563.3,1058.1 1565.3,1058.1 1567.2,1058.1 1569.2,1058.1 1571.1,1058.1 1573.1,1058.1 1575.1,1058.2 1577.0,1058.2 1579.0,1058.2 1581.0,1058.2 1582.9,1058.3 1584.9,1058.3 1586.8,1058.3 1588.8,1058.4 1590.8,1058.4 1592.7,1058.5 1594.7,1058.5 1596.7,1058.5 1598.6,1058.6 1600.6,1058.6 1602.5,1058.7 1604.5,1058.7 1606.5,1058.7 1608.4,1058.8 1610.4,1058.8 1612.4,1058.8 1614.3,1058.9 1616.3,1058.9 1618.2,1058.9 1620.2,1058.9 1622.2,1059.0 1624.1,1059.0 1626.1,1059.0 1628.0,1059.0 1630.0,1059.0 1632.0,1059.0 1633.9,1059.0 1635.9,1059.0 1637.9,1059.0 1639.8,1059.0 1641.8,1059.0 1643.7,1059.0 1645.7,1059.0 1647.7,1059.0 1649.6,1059.0 1651.6,1059.0 1653.6,1059.0 1655.5,1059.0 1657.5,1059.0 1659.4,1059.0 1661.4,1059.0 1663.4,1059.0 1665.3,1059.0 1667.3,1059.1 1669.3,1059.1 1671.2,1059.1 1673.2,1059.1 1675.1,1059.1 1677.1,1059.1 1679.1,1059.2 1681.0,1059.2 1683.0,1059.2 1685.0,1059.2 1686.9,1059.2 1688.9,1059.3 1690.8,1059.3 1692.8,1059.3 1694.8,1059.3 1696.7,1059.3 1698.7,1059.3 1700.7,1059.3 1702.6,1059.3 1704.6,1059.3 1706.5,1059.3 1708.5,1059.3" fill="none" stroke="#0000ff" stroke-width="9" stroke-linejoin="round" stroke-linecap="round"/>
<g fill="#fff" stroke="#0000ff" stroke-width="5" stroke-linejoin="bevel">
<path d="M341.9,1044.3L354.9,1066.5L328.9,1066.5Z"/>
<path d="M368.6,1044.3L381.6,1066.5L355.6,1066.5Z"/>
<path d="M395.3,1043.6L408.3,1065.8L382.3,1065.8Z"/>
<path d="M422.7,1042.8L435.7,1065.0L409.7,1065.0Z"/>
<path d="M450.7,1042.5L463.7,1064.7L437.7,1064.7Z"/>
<path d="M478.0,1042.1L491.0,1064.3L465.0,1064.3Z"/>
<path d="M504.8,1041.6L517.8,1063.8L491.8,1063.8Z"/>
<path d="M532.8,1041.1L545.8,1063.3L519.8,1063.3Z"/>
<path d="M559.2,1040.8L572.2,1063.0L546.2,1063.0Z"/>
<path d="M587.1,1039.9L600.1,1062.1L574.1,1062.1Z"/>
<path d="M614.5,1039.0L627.5,1061.2L601.5,1061.2Z"/>
<path d="M642.0,1036.6L655.0,1058.8L629.0,1058.8Z"/>
<path d="M669.4,1034.3L682.4,1056.5L656.4,1056.5Z"/>
<path d="M696.4,1031.7L709.4,1053.9L683.4,1053.9Z"/>
<path d="M723.8,1028.2L736.8,1050.4L710.8,1050.4Z"/>
<path d="M751.0,1022.4L764.0,1044.6L738.0,1044.6Z"/>
<path d="M777.1,1015.1L790.1,1037.3L764.1,1037.3Z"/>
<path d="M804.3,1007.8L817.3,1030.0L791.3,1030.0Z"/>
<path d="M831.4,997.7L844.4,1019.9L818.4,1019.9Z"/>
<path d="M858.6,986.1L871.6,1008.3L845.6,1008.3Z"/>
<path d="M885.5,975.9L898.5,998.1L872.5,998.1Z"/>
<path d="M912.6,961.4L925.6,983.6L899.6,983.6Z"/>
<path d="M939.8,948.4L952.8,970.6L926.8,970.6Z"/>
<path d="M966.8,939.7L979.8,961.9L953.8,961.9Z"/>
<path d="M994.1,933.9L1007.1,956.1L981.1,956.1Z"/>
<path d="M1020.7,932.4L1033.7,954.6L1007.7,954.6Z"/>
<path d="M1048.0,933.9L1061.0,956.1L1035.0,956.1Z"/>
<path d="M1075.0,939.7L1088.0,961.9L1062.0,961.9Z"/>
<path d="M1102.0,948.4L1115.0,970.6L1089.0,970.6Z"/>
<path d="M1128.6,958.5L1141.6,980.7L1115.6,980.7Z"/>
<path d="M1155.3,969.3L1168.3,991.5L1142.3,991.5Z"/>
<path d="M1182.3,981.7L1195.3,1003.9L1169.3,1003.9Z"/>
<path d="M1209.0,993.3L1222.0,1015.5L1196.0,1015.5Z"/>
<path d="M1236.0,1002.6L1249.0,1024.8L1223.0,1024.8Z"/>
<path d="M1262.1,1012.3L1275.1,1034.5L1249.1,1034.5Z"/>
<path d="M1289.0,1019.3L1302.0,1041.5L1276.0,1041.5Z"/>
<path d="M1315.3,1025.3L1328.3,1047.5L1302.3,1047.5Z"/>
<path d="M1341.8,1029.3L1354.8,1051.5L1328.8,1051.5Z"/>
<path d="M1368.2,1035.1L1381.2,1057.3L1355.2,1057.3Z"/>
<path d="M1394.7,1038.8L1407.7,1061.0L1381.7,1061.0Z"/>
<path d="M1421.0,1040.3L1434.0,1062.5L1408.0,1062.5Z"/>
<path d="M1447.6,1041.3L1460.6,1063.5L1434.6,1063.5Z"/>
<path d="M1473.2,1042.0L1486.2,1064.2L1460.2,1064.2Z"/>
<path d="M1499.9,1042.6L1512.9,1064.8L1486.9,1064.8Z"/>
<path d="M1526.0,1043.1L1539.0,1065.3L1513.0,1065.3Z"/>
<path d="M1552.6,1043.3L1565.6,1065.5L1539.6,1065.5Z"/>
<path d="M1578.7,1043.5L1591.7,1065.7L1565.7,1065.7Z"/>
<path d="M1604.3,1044.0L1617.3,1066.2L1591.3,1066.2Z"/>
<path d="M1630.2,1044.3L1643.2,1066.5L1617.2,1066.5Z"/>
<path d="M1656.5,1044.3L1669.5,1066.5L1643.5,1066.5Z"/>
<path d="M1682.6,1044.5L1695.6,1066.7L1669.6,1066.7Z"/>
<path d="M1708.5,1044.6L1721.5,1066.8L1695.5,1066.8Z"/>
</g>
<polyline points="336.9,1059.5 338.9,1059.5 340.8,1059.5 342.8,1059.5 344.7,1059.4 346.7,1059.4 348.7,1059.4 350.6,1059.4 352.6,1059.3 354.6,1059.3 356.5,1059.3 358.5,1059.3 360.4,1059.3 362.4,1059.4 364.4,1059.4 366.3,1059.4 368.3,1059.4 370.3,1059.4 372.2,1059.4 374.2,1059.4 376.1,1059.5 378.1,1059.5 380.1,1059.5 382.0,1059.5 384.0,1059.5 386.0,1059.5 387.9,1059.5 389.9,1059.5 391.8,1059.4 393.8,1059.4 395.8,1059.4 397.7,1059.4 399.7,1059.3 401.7,1059.2 403.6,1059.2 405.6,1059.1 407.5,1059.1 409.5,1059.0 411.5,1058.9 413.4,1058.8 415.4,1058.8 417.4,1058.7 419.3,1058.6 421.3,1058.6 423.2,1058.5 425.2,1058.4 427.2,1058.4 429.1,1058.3 431.1,1058.2 433.0,1058.2 435.0,1058.1 437.0,1058.1 438.9,1058.0 440.9,1057.9 442.9,1057.9 444.8,1057.8 446.8,1057.7 448.7,1057.7 450.7,1057.6 452.7,1057.5 454.6,1057.4 456.6,1057.4 458.6,1057.3 460.5,1057.2 462.5,1057.1 464.4,1057.0 466.4,1056.9 468.4,1056.8 470.3,1056.7 472.3,1056.6 474.3,1056.5 476.2,1056.4 478.2,1056.3 480.1,1056.2 482.1,1056.1 484.1,1056.0 486.0,1055.9 488.0,1055.8 490.0,1055.7 491.9,1055.6 493.9,1055.6 495.8,1055.5 497.8,1055.4 499.8,1055.3 501.7,1055.2 503.7,1055.1 505.7,1055.1 507.6,1055.0 509.6,1054.9 511.5,1054.8 513.5,1054.7 515.5,1054.7 517.4,1054.6 519.4,1054.5 521.3,1054.4 523.3,1054.3 525.3,1054.2 527.2,1054.1 529.2,1053.9 531.2,1053.8 533.1,1053.7 535.1,1053.5 537.0,1053.4 539.0,1053.2 541.0,1053.0 542.9,1052.9 544.9,1052.7 546.9,1052.5 548.8,1052.3 550.8,1052.1 552.7,1052.0 554.7,1051.8 556.7,1051.6 558.6,1051.4 560.6,1051.3 562.6,1051.1 564.5,1051.0 566.5,1050.8 568.4,1050.7 570.4,1050.5 572.4,1050.3 574.3,1050.2 576.3,1050.0 578.3,1049.8 580.2,1049.7 582.2,1049.5 584.1,1049.2 586.1,1049.0 588.1,1048.8 590.0,1048.5 592.0,1048.3 594.0,1048.0 595.9,1047.7 597.9,1047.4 599.8,1047.1 601.8,1046.8 603.8,1046.5 605.7,1046.1 607.7,1045.8 609.7,1045.5 611.6,1045.2 613.6,1044.9 615.5,1044.6 617.5,1044.4 619.5,1044.1 621.4,1043.8 623.4,1043.5 625.3,1043.3 627.3,1043.0 629.3,1042.7 631.2,1042.4 633.2,1042.1 635.2,1041.8 637.1,1041.5 639.1,1041.1 641.0,1040.8 643.0,1040.4 645.0,1040.0 646.9,1039.5 648.9,1039.1 650.9,1038.6 652.8,1038.2 654.8,1037.7 656.7,1037.2 658.7,1036.6 660.7,1036.1 662.6,1035.6 664.6,1035.1 666.6,1034.6 668.5,1034.0 670.5,1033.5 672.4,1033.0 674.4,1032.5 676.4,1032.0 678.3,1031.5 680.3,1030.9 682.3,1030.4 684.2,1029.9 686.2,1029.4 688.1,1028.8 690.1,1028.3 692.1,1027.8 694.0,1027.2 696.0,1026.6 698.0,1026.0 699.9,1025.4 701.9,1024.8 703.8,1024.2 705.8,1023.6 707.8,1022.9 709.7,1022.2 711.7,1021.5 713.6,1020.8 715.6,1020.1 717.6,1019.3 719.5,1018.5 721.5,1017.7 723.5,1016.9 725.4,1016.1 727.4,1015.2 729.3,1014.3 731.3,1013.4 733.3,1012.5 735.2,1011.5 737.2,1010.6 739.2,1009.6 741.1,1008.6 743.1,1007.6 745.0,1006.6 747.0,1005.6 749.0,1004.6 750.9,1003.6 752.9,1002.5 754.9,1001.5 756.8,1000.4 758.8,999.4 760.7,998.3 762.7,997.2 764.7,996.1 766.6,995.0 768.6,993.9 770.6,992.7 772.5,991.5 774.5,990.3 776.4,989.0 778.4,987.7 780.4,986.4 782.3,985.1 784.3,983.7 786.3,982.3 788.2,980.9 790.2,979.4 792.1,977.9 794.1,976.4 796.1,974.9 798.0,973.4 800.0,971.8 801.9,970.2 803.9,968.6 805.9,967.0 807.8,965.4 809.8,963.7 811.8,962.0 813.7,960.3 815.7,958.6 817.6,956.8 819.6,955.1 821.6,953.2 823.5,951.4 825.5,949.5 827.5,947.6 829.4,945.6 831.4,943.6 833.3,941.6 835.3,939.5 837.3,937.4 839.2,935.2 841.2,933.0 843.2,930.7 845.1,928.4 847.1,926.1 849.0,923.7 851.0,921.4 853.0,918.9 854.9,916.5 856.9,914.0 858.9,911.4 860.8,908.9 862.8,906.3 864.7,903.7 866.7,901.1 868.7,898.5 870.6,895.8 872.6,893.2 874.6,890.6 876.5,888.0 878.5,885.5 880.4,883.0 882.4,880.5 884.4,878.0 886.3,875.6 888.3,873.2 890.2,870.9 892.2,868.6 894.2,866.3 896.1,864.0 898.1,861.7 900.1,859.4 902.0,857.0 904.0,854.6 905.9,852.2 907.9,849.7 909.9,847.1 911.8,844.4 913.8,841.6 915.8,838.7 917.7,835.8 919.7,832.7 921.6,829.7 923.6,826.5 925.6,823.4 927.5,820.3 929.5,817.2 931.5,814.1 933.4,811.0 935.4,808.0 937.3,805.1 939.3,802.2 941.3,799.5 943.2,796.8 945.2,794.2 947.2,791.8 949.1,789.3 951.1,787.0 953.0,784.7 955.0,782.5 957.0,780.3 958.9,778.1 960.9,776.0 962.9,773.9 964.8,771.7 966.8,769.6 968.7,767.5 970.7,765.4 972.7,763.3 974.6,761.2 976.6,759.1 978.5,757.1 980.5,755.1 982.5,753.2 984.4,751.3 986.4,749.6 988.4,747.9 990.3,746.3 992.3,744.8 994.2,743.4 996.2,742.1 998.2,741.0 1000.1,739.9 1002.1,739.0 1004.1,738.1 1006.0,737.3 1008.0,736.6 1009.9,735.9 1011.9,735.3 1013.9,734.7 1015.8,734.1 1017.8,733.6 1019.8,733.1 1021.7,732.5 1023.7,732.0 1025.6,731.5 1027.6,731.0 1029.6,730.5 1031.5,730.1 1033.5,729.7 1035.5,729.3 1037.4,729.0 1039.4,728.8 1041.3,728.6 1043.3,728.5 1045.3,728.5 1047.2,728.6 1049.2,728.8 1051.2,729.1 1053.1,729.5 1055.1,730.0 1057.0,730.6 1059.0,731.2 1061.0,731.9 1062.9,732.7 1064.9,733.6 1066.9,734.5 1068.8,735.4 1070.8,736.4 1072.7,737.4 1074.7,738.4 1076.7,739.5 1078.6,740.6 1080.6,741.7 1082.5,742.8 1084.5,743.9 1086.5,745.1 1088.4,746.3 1090.4,747.4 1092.4,748.6 1094.3,749.8 1096.3,751.0 1098.2,752.2 1100.2,753.4 1102.2,754.6 1104.1,755.8 1106.1,757.0 1108.1,758.3 1110.0,759.5 1112.0,760.8 1113.9,762.1 1115.9,763.5 1117.9,764.8 1119.8,766.3 1121.8,767.8 1123.8,769.4 1125.7,771.0 1127.7,772.8 1129.6,774.6 1131.6,776.5 1133.6,778.4 1135.5,780.5 1137.5,782.6 1139.5,784.8 1141.4,787.1 1143.4,789.4 1145.3,791.8 1147.3,794.2 1149.3,796.6 1151.2,799.1 1153.2,801.6 1155.2,804.2 1157.1,806.8 1159.1,809.4 1161.0,812.0 1163.0,814.7 1165.0,817.3 1166.9,820.0 1168.9,822.7 1170.8,825.4 1172.8,828.1 1174.8,830.8 1176.7,833.5 1178.7,836.2 1180.7,838.9 1182.6,841.6 1184.6,844.4 1186.5,847.1 1188.5,849.7 1190.5,852.4 1192.4,855.1 1194.4,857.7 1196.4,860.3 1198.3,862.9 1200.3,865.4 1202.2,868.0 1204.2,870.4 1206.2,872.9 1208.1,875.3 1210.1,877.6 1212.1,879.9 1214.0,882.1 1216.0,884.4 1217.9,886.6 1219.9,888.8 1221.9,891.0 1223.8,893.1 1225.8,895.3 1227.8,897.5 1229.7,899.8 1231.7,902.0 1233.6,904.3 1235.6,906.7 1237.6,909.1 1239.5,911.5 1241.5,914.0 1243.5,916.5 1245.4,919.1 1247.4,921.6 1249.3,924.2 1251.3,926.7 1253.3,929.3 1255.2,931.8 1257.2,934.2 1259.1,936.7 1261.1,939.0 1263.1,941.3 1265.0,943.6 1267.0,945.8 1269.0,947.9 1270.9,950.0 1272.9,952.0 1274.8,954.0 1276.8,955.9 1278.8,957.8 1280.7,959.7 1282.7,961.5 1284.7,963.4 1286.6,965.2 1288.6,967.0 1290.5,968.8 1292.5,970.6 1294.5,972.4 1296.4,974.2 1298.4,975.9 1300.4,977.7 1302.3,979.4 1304.3,981.1 1306.2,982.7 1308.2,984.3 1310.2,985.9 1312.1,987.4 1314.1,988.9 1316.1,990.3 1318.0,991.7 1320.0,993.1 1321.9,994.4 1323.9,995.6 1325.9,996.9 1327.8,998.1 1329.8,999.2 1331.8,1000.4 1333.7,1001.5 1335.7,1002.6 1337.6,1003.7 1339.6,1004.8 1341.6,1005.9 1343.5,1006.9 1345.5,1008.0 1347.4,1009.1 1349.4,1010.2 1351.4,1011.2 1353.3,1012.3 1355.3,1013.3 1357.3,1014.4 1359.2,1015.4 1361.2,1016.4 1363.1,1017.4 1365.1,1018.4 1367.1,1019.4 1369.0,1020.4 1371.0,1021.3 1373.0,1022.3 1374.9,1023.2 1376.9,1024.1 1378.8,1025.0 1380.8,1025.9 1382.8,1026.7 1384.7,1027.6 1386.7,1028.4 1388.7,1029.2 1390.6,1029.9 1392.6,1030.7 1394.5,1031.4 1396.5,1032.2 1398.5,1032.9 1400.4,1033.5 1402.4,1034.2 1404.4,1034.8 1406.3,1035.4 1408.3,1036.0 1410.2,1036.6 1412.2,1037.2 1414.2,1037.7 1416.1,1038.3 1418.1,1038.8 1420.1,1039.3 1422.0,1039.7 1424.0,1040.2 1425.9,1040.6 1427.9,1041.1 1429.9,1041.5 1431.8,1041.9 1433.8,1042.3 1435.7,1042.7 1437.7,1043.1 1439.7,1043.5 1441.6,1043.9 1443.6,1044.2 1445.6,1044.6 1447.5,1045.0 1449.5,1045.4 1451.4,1045.7 1453.4,1046.1 1455.4,1046.5 1457.3,1046.9 1459.3,1047.2 1461.3,1047.6 1463.2,1047.9 1465.2,1048.3 1467.1,1048.6 1469.1,1048.9 1471.1,1049.2 1473.0,1049.5 1475.0,1049.7 1477.0,1050.0 1478.9,1050.2 1480.9,1050.4 1482.8,1050.6 1484.8,1050.8 1486.8,1051.0 1488.7,1051.1 1490.7,1051.3 1492.7,1051.4 1494.6,1051.6 1496.6,1051.7 1498.5,1051.9 1500.5,1052.0 1502.5,1052.2 1504.4,1052.3 1506.4,1052.5 1508.4,1052.6 1510.3,1052.8 1512.3,1052.9 1514.2,1053.1 1516.2,1053.2 1518.2,1053.4 1520.1,1053.5 1522.1,1053.6 1524.1,1053.8 1526.0,1053.9 1528.0,1054.0 1529.9,1054.1 1531.9,1054.2 1533.9,1054.3 1535.8,1054.4 1537.8,1054.5 1539.7,1054.6 1541.7,1054.7 1543.7,1054.8 1545.6,1054.9 1547.6,1055.0 1549.6,1055.1 1551.5,1055.2 1553.5,1055.4 1555.4,1055.5 1557.4,1055.6 1559.4,1055.7 1561.3,1055.8 1563.3,1055.9 1565.3,1056.1 1567.2,1056.2 1569.2,1056.3 1571.1,1056.4 1573.1,1056.5 1575.1,1056.6 1577.0,1056.7 1579.0,1056.8 1581.0,1056.9 1582.9,1057.0 1584.9,1057.0 1586.8,1057.1 1588.8,1057.1 1590.8,1057.2 1592.7,1057.2 1594.7,1057.3 1596.7,1057.3 1598.6,1057.4 1600.6,1057.4 1602.5,1057.5 1604.5,1057.5 1606.5,1057.6 1608.4,1057.6 1610.4,1057.7 1612.4,1057.7 1614.3,1057.8 1616.3,1057.8 1618.2,1057.9 1620.2,1057.9 1622.2,1058.0 1624.1,1058.0 1626.1,1058.1 1628.0,1058.1 1630.0,1058.2 1632.0,1058.2 1633.9,1058.3 1635.9,1058.3 1637.9,1058.4 1639.8,1058.4 1641.8,1058.4 1643.7,1058.4 1645.7,1058.5 1647.7,1058.5 1649.6,1058.5 1651.6,1058.5 1653.6,1058.6 1655.5,1058.6 1657.5,1058.6 1659.4,1058.6 1661.4,1058.7 1663.4,1058.7 1665.3,1058.7 1667.3,1058.7 1669.3,1058.7 1671.2,1058.8 1673.2,1058.8 1675.1,1058.8 1677.1,1058.8 1679.1,1058.9 1681.0,1058.9 1683.0,1058.9 1685.0,1058.9 1686.9,1058.9 1688.9,1059.0 1690.8,1059.0 1692.8,1059.0 1694.8,1059.0 1696.7,1059.1 1698.7,1059.1 1700.7,1059.1 1702.6,1059.1 1704.6,1059.2 1706.5,1059.2 1708.5,1059.2" fill="none" stroke="#008080" stroke-width="9" stroke-linejoin="round" stroke-linecap="round"/>
<g fill="#fff" stroke="#008080" stroke-width="5" stroke-linejoin="bevel">
<path d="M328.9,1052.0L354.9,1052.0L341.9,1074.2Z"/>
<path d="M355.6,1051.9L381.6,1051.9L368.6,1074.1Z"/>
<path d="M382.3,1051.9L408.3,1051.9L395.3,1074.1Z"/>
<path d="M409.7,1051.0L435.7,1051.0L422.7,1073.2Z"/>
<path d="M437.7,1050.1L463.7,1050.1L450.7,1072.3Z"/>
<path d="M465.0,1048.8L491.0,1048.8L478.0,1071.0Z"/>
<path d="M491.8,1047.6L517.8,1047.6L504.8,1069.8Z"/>
<path d="M519.8,1046.2L545.8,1046.2L532.8,1068.4Z"/>
<path d="M546.2,1043.9L572.2,1043.9L559.2,1066.1Z"/>
<path d="M574.1,1041.4L600.1,1041.4L587.1,1063.6Z"/>
<path d="M601.5,1037.3L627.5,1037.3L614.5,1059.5Z"/>
<path d="M629.0,1033.1L655.0,1033.1L642.0,1055.3Z"/>
<path d="M656.4,1026.3L682.4,1026.3L669.4,1048.5Z"/>
<path d="M683.4,1019.0L709.4,1019.0L696.4,1041.2Z"/>
<path d="M710.8,1009.3L736.8,1009.3L723.8,1031.5Z"/>
<path d="M738.0,996.0L764.0,996.0L751.0,1018.2Z"/>
<path d="M764.1,981.1L790.1,981.1L777.1,1003.3Z"/>
<path d="M791.3,960.8L817.3,960.8L804.3,983.0Z"/>
<path d="M818.4,936.1L844.4,936.1L831.4,958.3Z"/>
<path d="M845.6,904.2L871.6,904.2L858.6,926.4Z"/>
<path d="M872.5,869.1L898.5,869.1L885.5,891.3Z"/>
<path d="M899.6,835.8L925.6,835.8L912.6,858.0Z"/>
<path d="M926.8,794.0L952.8,794.0L939.8,816.2Z"/>
<path d="M953.8,762.1L979.8,762.1L966.8,784.3Z"/>
<path d="M981.1,736.0L1007.1,736.0L994.1,758.2Z"/>
<path d="M1007.7,725.3L1033.7,725.3L1020.7,747.5Z"/>
<path d="M1035.0,721.2L1061.0,721.2L1048.0,743.4Z"/>
<path d="M1062.0,731.1L1088.0,731.1L1075.0,753.3Z"/>
<path d="M1089.0,747.0L1115.0,747.0L1102.0,769.2Z"/>
<path d="M1115.6,766.1L1141.6,766.1L1128.6,788.3Z"/>
<path d="M1142.3,796.9L1168.3,796.9L1155.3,819.1Z"/>
<path d="M1169.3,833.7L1195.3,833.7L1182.3,855.9Z"/>
<path d="M1196.0,868.8L1222.0,868.8L1209.0,891.0Z"/>
<path d="M1223.0,899.6L1249.0,899.6L1236.0,921.8Z"/>
<path d="M1249.1,932.7L1275.1,932.7L1262.1,954.9Z"/>
<path d="M1276.0,959.9L1302.0,959.9L1289.0,982.1Z"/>
<path d="M1302.3,982.3L1328.3,982.3L1315.3,1004.5Z"/>
<path d="M1328.8,998.5L1354.8,998.5L1341.8,1020.7Z"/>
<path d="M1355.2,1012.5L1381.2,1012.5L1368.2,1034.7Z"/>
<path d="M1381.7,1024.0L1407.7,1024.0L1394.7,1046.2Z"/>
<path d="M1408.0,1032.0L1434.0,1032.0L1421.0,1054.2Z"/>
<path d="M1434.6,1037.5L1460.6,1037.5L1447.6,1059.7Z"/>
<path d="M1460.2,1042.0L1486.2,1042.0L1473.2,1064.2Z"/>
<path d="M1486.9,1044.5L1512.9,1044.5L1499.9,1066.7Z"/>
<path d="M1513.0,1046.4L1539.0,1046.4L1526.0,1068.6Z"/>
<path d="M1539.6,1047.8L1565.6,1047.8L1552.6,1070.0Z"/>
<path d="M1565.7,1049.3L1591.7,1049.3L1578.7,1071.5Z"/>
<path d="M1591.3,1050.0L1617.3,1050.0L1604.3,1072.2Z"/>
<path d="M1617.2,1050.7L1643.2,1050.7L1630.2,1072.9Z"/>
<path d="M1643.5,1051.1L1669.5,1051.1L1656.5,1073.3Z"/>
<path d="M1669.6,1051.4L1695.6,1051.4L1682.6,1073.6Z"/>
<path d="M1695.5,1051.7L1721.5,1051.7L1708.5,1073.9Z"/>
</g>
</g>
<path d="M378,114.9H516" stroke="#00ff00" stroke-width="8" stroke-linecap="round"/>
<g fill="#fff" stroke="#00ff00" stroke-width="5" stroke-linejoin="round"><rect x="437.7" y="105.9" width="18" height="18"/></g>
<text x="530.5" y="134.9" font-size="62.5" textLength="565.8" lengthAdjust="spacing">PVK/spiro-OMeTAD</text>
<path d="M378,192.3H516" stroke="#ff0000" stroke-width="8" stroke-linecap="round"/>
<g fill="#fff" stroke="#ff0000" stroke-width="4.4" stroke-linejoin="round"><circle cx="446.7" cy="192.3" r="10"/></g>
<text x="530.5" y="212.3" font-size="62.5">PVK</text>
<path d="M378,269.7H516" stroke="#0000ff" stroke-width="8" stroke-linecap="round"/>
<g fill="#fff" stroke="#0000ff" stroke-width="5" stroke-linejoin="bevel"><path d="M446.7,255.0L459.7,277.2L433.7,277.2Z"/></g>
<text x="530.5" y="289.7" font-size="62.5">PVK/<tspan dx="-2.7">X</tspan>1</text>
<path d="M378,347.1H516" stroke="#008080" stroke-width="8" stroke-linecap="round"/>
<g fill="#fff" stroke="#008080" stroke-width="5" stroke-linejoin="bevel"><path d="M433.7,339.6L459.7,339.6L446.7,361.8Z"/></g>
<text x="530.5" y="367.1" font-size="62.5">PVK/<tspan dx="-2.7">X</tspan>2</text>
<text x="269.3" y="1084.5" font-size="80">0</text>
<text x="126.2" y="942.2" font-size="80">1x10</text>
<text transform="translate(284.4,898.9) scale(0.9,1)" font-size="48">4</text>
<text x="126.2" y="783.8" font-size="80">2x10</text>
<text transform="translate(284.4,740.5) scale(0.9,1)" font-size="48">4</text>
<text x="126.2" y="625.5" font-size="80">3x10</text>
<text transform="translate(284.4,582.2) scale(0.9,1)" font-size="48">4</text>
<text x="126.2" y="467.2" font-size="80">4x10</text>
<text transform="translate(284.4,423.9) scale(0.9,1)" font-size="48">4</text>
<text x="126.2" y="308.8" font-size="80">5x10</text>
<text transform="translate(284.4,265.5) scale(0.9,1)" font-size="48">4</text>
<text x="126.2" y="150.5" font-size="80">6x10</text>
<text transform="translate(284.4,107.2) scale(0.9,1)" font-size="48">4</text>
<text x="341.0" y="1164.6" font-size="80" text-anchor="middle">700</text>
<text x="688.6" y="1164.6" font-size="80" text-anchor="middle">750</text>
<text x="1036.2" y="1164.6" font-size="80" text-anchor="middle">800</text>
<text x="1383.9" y="1164.6" font-size="80" text-anchor="middle">850</text>
<text x="1731.5" y="1164.6" font-size="80" text-anchor="middle">900</text>
<text x="744.3" y="1271.8" font-size="80" textLength="585.6" lengthAdjust="spacing">Wavelength (nm)</text>
<text transform="translate(79.9,767.4) rotate(-90)" x="0" y="0" font-size="81" textLength="427.4" lengthAdjust="spacing">PL Intensity</text>
</svg></body></html>
